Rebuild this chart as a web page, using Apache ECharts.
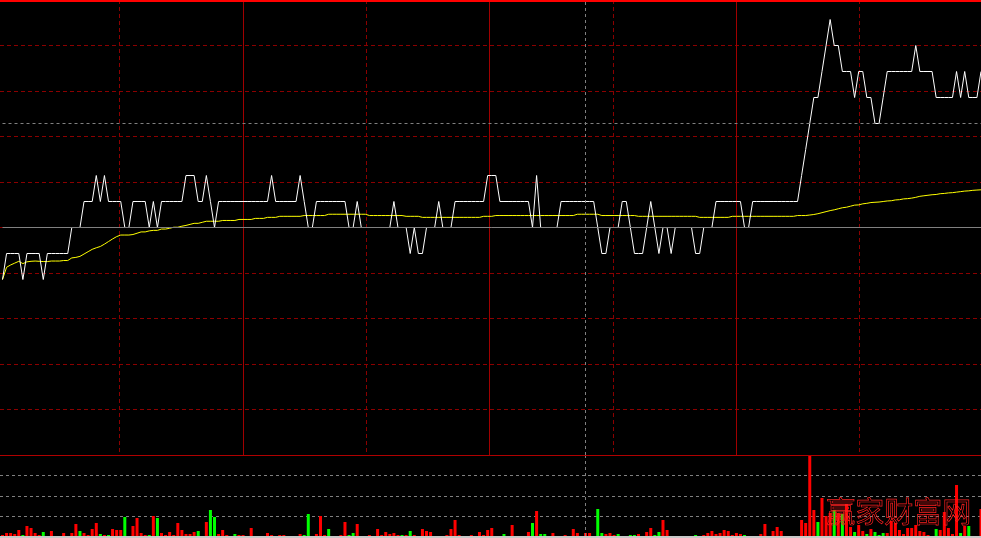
<!DOCTYPE html>
<html><head><meta charset="utf-8">
<style>html,body{margin:0;padding:0;background:#000;}#c{width:981px;height:538px;}</style>
<script src="https://cdn.jsdelivr.net/npm/echarts@6/dist/echarts.min.js"></script>
</head><body><div id="c"></div>
<script>
const prevClose = 3.50;
const limitPct = 2.5;
const cursorPrice = 3.5415;
const cursorIndex = 143;
const watermark = '赢家财富网';
const halfHourDashed = [1, 3, 5, 7];
const hourSolid = [2, 4, 6];

const pricesAM = [
3.48,3.49,3.49,3.49,3.49,3.48,3.49,3.49,3.49,3.49,
3.48,3.49,3.49,3.49,3.49,3.49,3.49,3.50,3.50,3.50,
3.51,3.51,3.51,3.52,3.51,3.52,3.51,3.51,3.51,3.51,
3.50,3.50,3.51,3.51,3.51,3.51,3.50,3.51,3.50,3.51,
3.51,3.51,3.51,3.51,3.51,3.52,3.52,3.52,3.51,3.51,
3.52,3.51,3.50,3.51,3.51,3.51,3.51,3.51,3.51,3.51,
3.51,3.51,3.51,3.51,3.51,3.51,3.52,3.51,3.51,3.51,
3.51,3.51,3.51,3.52,3.51,3.50,3.50,3.51,3.51,3.51,
3.51,3.51,3.51,3.51,3.51,3.50,3.50,3.51,3.50,3.50,
3.50,3.50,3.50,3.50,3.50,3.50,3.51,3.50,3.50,3.50,
3.49,3.50,3.49,3.49,3.50,3.50,3.50,3.51,3.50,3.50,
3.50,3.51,3.51,3.51,3.51,3.51,3.51,3.51,3.51,3.52,
3.52];
const pricesPM = [
3.52,3.51,3.51,3.51,3.51,3.51,3.51,3.51,3.51,3.50,
3.52,3.50,3.50,3.50,3.50,3.50,3.51,3.51,3.51,3.51,
3.51,3.51,3.51,3.51,3.51,3.50,3.49,3.49,3.50,3.50,
3.50,3.51,3.51,3.50,3.49,3.49,3.49,3.50,3.51,3.50,
3.49,3.50,3.50,3.49,3.50,3.50,3.50,3.50,3.50,3.49,
3.49,3.50,3.50,3.50,3.51,3.51,3.51,3.51,3.51,3.51,
3.51,3.50,3.50,3.51,3.51,3.51,3.51,3.51,3.51,3.51,
3.51,3.51,3.51,3.51,3.51,3.52,3.53,3.54,3.55,3.55,
3.56,3.57,3.58,3.57,3.57,3.56,3.56,3.56,3.55,3.56,
3.56,3.55,3.55,3.54,3.54,3.55,3.56,3.56,3.56,3.56,
3.56,3.56,3.56,3.57,3.56,3.56,3.56,3.56,3.55,3.55,
3.55,3.55,3.55,3.56,3.55,3.56,3.55,3.55,3.55,3.56];

const avgAM = [
3.4800,3.4847,3.4856,3.4863,3.4870,3.4861,3.4868,3.4870,3.4871,3.4870,
3.4869,3.4869,3.4871,3.4871,3.4871,3.4873,3.4873,3.4883,3.4885,3.4889,
3.4898,3.4907,3.4916,3.4922,3.4927,3.4936,3.4946,3.4956,3.4965,3.4971,
3.4971,3.4971,3.4973,3.4978,3.4983,3.4983,3.4987,3.4989,3.4989,3.4994,
3.4994,3.4997,3.5001,3.5001,3.5005,3.5008,3.5012,3.5016,3.5016,3.5020,
3.5024,3.5024,3.5024,3.5024,3.5027,3.5027,3.5027,3.5027,3.5031,3.5031,
3.5031,3.5031,3.5035,3.5035,3.5035,3.5039,3.5039,3.5039,3.5043,3.5043,
3.5043,3.5043,3.5043,3.5043,3.5046,3.5046,3.5046,3.5046,3.5046,3.5046,
3.5051,3.5051,3.5051,3.5051,3.5051,3.5051,3.5051,3.5051,3.5051,3.5051,
3.5046,3.5046,3.5046,3.5046,3.5046,3.5046,3.5046,3.5046,3.5046,3.5043,
3.5043,3.5043,3.5043,3.5039,3.5039,3.5039,3.5039,3.5039,3.5039,3.5039,
3.5039,3.5039,3.5039,3.5039,3.5039,3.5039,3.5039,3.5039,3.5043,3.5043,
3.5043];
const avgPM = [
3.5046,3.5046,3.5046,3.5046,3.5046,3.5046,3.5046,3.5046,3.5046,3.5046,
3.5046,3.5046,3.5046,3.5046,3.5046,3.5046,3.5046,3.5046,3.5046,3.5046,
3.5051,3.5051,3.5051,3.5051,3.5051,3.5051,3.5046,3.5046,3.5046,3.5046,
3.5046,3.5046,3.5046,3.5046,3.5046,3.5043,3.5043,3.5043,3.5043,3.5043,
3.5043,3.5043,3.5043,3.5043,3.5043,3.5043,3.5043,3.5043,3.5043,3.5043,
3.5039,3.5039,3.5039,3.5039,3.5039,3.5039,3.5039,3.5039,3.5043,3.5043,
3.5043,3.5043,3.5043,3.5043,3.5043,3.5043,3.5043,3.5043,3.5043,3.5043,
3.5043,3.5043,3.5043,3.5043,3.5046,3.5046,3.5046,3.5048,3.5050,3.5053,
3.5057,3.5061,3.5065,3.5068,3.5072,3.5076,3.5078,3.5082,3.5086,3.5087,
3.5091,3.5093,3.5096,3.5097,3.5098,3.5100,3.5102,3.5103,3.5106,3.5107,
3.5110,3.5111,3.5113,3.5116,3.5120,3.5122,3.5124,3.5126,3.5127,3.5130,
3.5131,3.5133,3.5134,3.5136,3.5138,3.5140,3.5141,3.5143,3.5144,3.5145];

const volumes = [
1,3,3,2,6,1,10,8,3,1,
4,0,5,0,0,3,0,3,12,5,
3,1,7,13,2,1,1,7,6,6,
19,0,10,18,3,1,1,20,18,3,
1,4,1,13,6,2,2,4,5,0,
14,26,19,2,6,1,0,2,1,1,
0,8,0,0,0,3,1,0,1,1,
0,0,0,2,1,22,0,2,20,1,
7,0,0,1,14,1,3,12,0,0,
1,0,7,1,4,2,3,1,1,1,
5,1,0,7,5,4,0,0,0,1,
7,16,1,0,0,1,0,4,1,6,
8,0,0,2,0,11,0,0,0,4,
13,25,2,2,0,3,0,0,1,0,
7,3,0,3,3,0,27,3,2,3,
1,2,0,0,1,1,2,0,4,8,
1,4,16,6,0,0,0,0,0,0,
1,0,1,3,5,2,3,6,5,1,
3,2,1,0,0,0,2,12,0,5,
9,5,0,0,0,0,16,13,81,26,
14,38,20,23,26,23,22,32,9,4,
11,5,2,7,4,1,3,3,15,13,
6,2,8,8,11,5,4,1,0,7,
6,24,8,2,51,3,10,10,0,0,
27];
const downBars = [5,10,19,24,26,30,36,38,48,51,52,57,74,75,80,85,86,98,100,123,130,132,133,146,147,151,154,155,160,161,170,182,200,204,206,209,212,214,215,216,229,235,237];

function pad(n){return (n<10?'0':'')+n;}
const times = [];
for (let m = 0; m <= 120; m++) { const t = 570 + m; times.push(pad(Math.floor(t/60)) + ':' + pad(t%60)); }
for (let m = 1; m <= 120; m++) { const t = 780 + m; times.push(pad(Math.floor(t/60)) + ':' + pad(t%60)); }

const prices = pricesAM.concat(pricesPM);
const avg = avgAM.concat(avgPM);
const volData = volumes.map((v, i) => ({ value: v, itemStyle: { color: downBars.indexOf(i) >= 0 ? '#00ff00' : '#ff0000' } }));

const hidden = { axisLine:{show:false}, axisTick:{show:false}, axisLabel:{show:false}, splitLine:{show:false} };

const chart = echarts.init(document.getElementById('c'), null, { renderer: 'canvas' });
chart.setOption({
  backgroundColor: '#000000',
  animation: false,
  grid: [
    { left: 2.5, right: 0, top: 0, height: 455 },
    { left: 2.5, right: 0, top: 455, height: 81 },
    { left: 0, right: 0, top: 0, height: 455 },
    { left: 0, right: 0, top: 455, height: 82 }
  ],
  xAxis: [
    Object.assign({ gridIndex: 0, type: 'category', data: times, boundaryGap: false }, hidden),
    Object.assign({ gridIndex: 1, type: 'category', data: times, boundaryGap: false }, hidden),
    { gridIndex: 2, type: 'value', min: 0.0311, max: 7.985, position: 'bottom', z: 1,
      axisLine: { show: false }, axisLabel: { show: false },
      axisTick: { show: false, customValues: halfHourDashed },
      splitLine: { show: true, lineStyle: { color: '#8b0000', type: [4, 3], width: 1 } } },
    { gridIndex: 2, type: 'value', min: 0.0311, max: 7.985, position: 'top', z: 1,
      axisLine: { show: true, onZero: false, lineStyle: { color: '#ff0000', width: 3 } },
      axisLabel: { show: false },
      axisTick: { show: false, customValues: hourSolid },
      splitLine: { show: true, lineStyle: { color: '#a00000', type: 'solid', width: 1 } } },
    { gridIndex: 3, type: 'value', min: 0, max: 1, position: 'bottom',
      axisLine: { show: true, onZero: false, lineStyle: { color: '#c8c8c8', width: 2 } },
      axisTick: { show: false }, axisLabel: { show: false }, splitLine: { show: false } },
    { gridIndex: 3, type: 'value', min: 0, max: 1, position: 'top', z: 5,
      axisLine: { show: true, onZero: false, lineStyle: { color: '#b00000', width: 1 } },
      axisTick: { show: false }, axisLabel: { show: false }, splitLine: { show: false } }
  ],
  yAxis: [
    Object.assign({ gridIndex: 0, type: 'value', min: prevClose * (1 - limitPct / 100), max: prevClose * (1 + limitPct / 100) }, hidden),
    Object.assign({ gridIndex: 1, type: 'value', min: 0, max: Math.max.apply(null, volumes) }, hidden),
    { gridIndex: 2, type: 'value', min: -limitPct, max: limitPct, interval: 0.5, z: 0,
      axisLine: { show: false }, axisTick: { show: false }, axisLabel: { show: false },
      splitLine: { show: true, lineStyle: { color: '#8b0000', type: [4, 3], width: 1 } } },
    { gridIndex: 3, type: 'value', min: 0, max: 4, interval: 1, z: 0,
      axisLine: { show: false }, axisTick: { show: false }, axisLabel: { show: false },
      splitLine: { show: true, lineStyle: { color: '#808080', type: [3, 3], width: 1 } } }
  ],
  series: [
    { name: 'ref', type: 'line', xAxisIndex: 0, yAxisIndex: 0, data: [], z: 2, silent: true,
      markLine: { silent: true, symbol: ['none', 'none'], label: { show: false }, animation: false,
        data: [
          { yAxis: prevClose, lineStyle: { color: '#808080', type: 'solid', width: 1 } },
          { yAxis: cursorPrice, lineStyle: { color: '#808080', type: [3, 3], width: 1 } },
          { xAxis: times[cursorIndex], lineStyle: { color: '#808080', type: [3, 3], width: 1 } }
        ] } },
    { name: '均价', type: 'line', xAxisIndex: 0, yAxisIndex: 0, data: avg, symbol: 'none', z: 3,
      lineStyle: { color: '#ffff00', width: 1 } },
    { name: '价格', type: 'line', xAxisIndex: 0, yAxisIndex: 0, data: prices, symbol: 'none', z: 4,
      lineStyle: { color: '#ffffff', width: 1 } },
    { name: '成交量', type: 'bar', xAxisIndex: 1, yAxisIndex: 1, data: volData, barWidth: 3, z: 3,
      markLine: { silent: true, symbol: ['none', 'none'], label: { show: false }, animation: false,
        data: [ { xAxis: times[cursorIndex], lineStyle: { color: '#808080', type: [3, 3], width: 1 } } ] } }
  ],
  graphic: [
    { type: 'text', left: 826, top: 497, z: 100, silent: true,
      style: { text: watermark, font: '29px "Noto Sans CJK SC"', fill: 'rgba(0,0,0,0)', stroke: '#ff2020', lineWidth: 0.7 } }
  ]
});
</script>
</body></html>
